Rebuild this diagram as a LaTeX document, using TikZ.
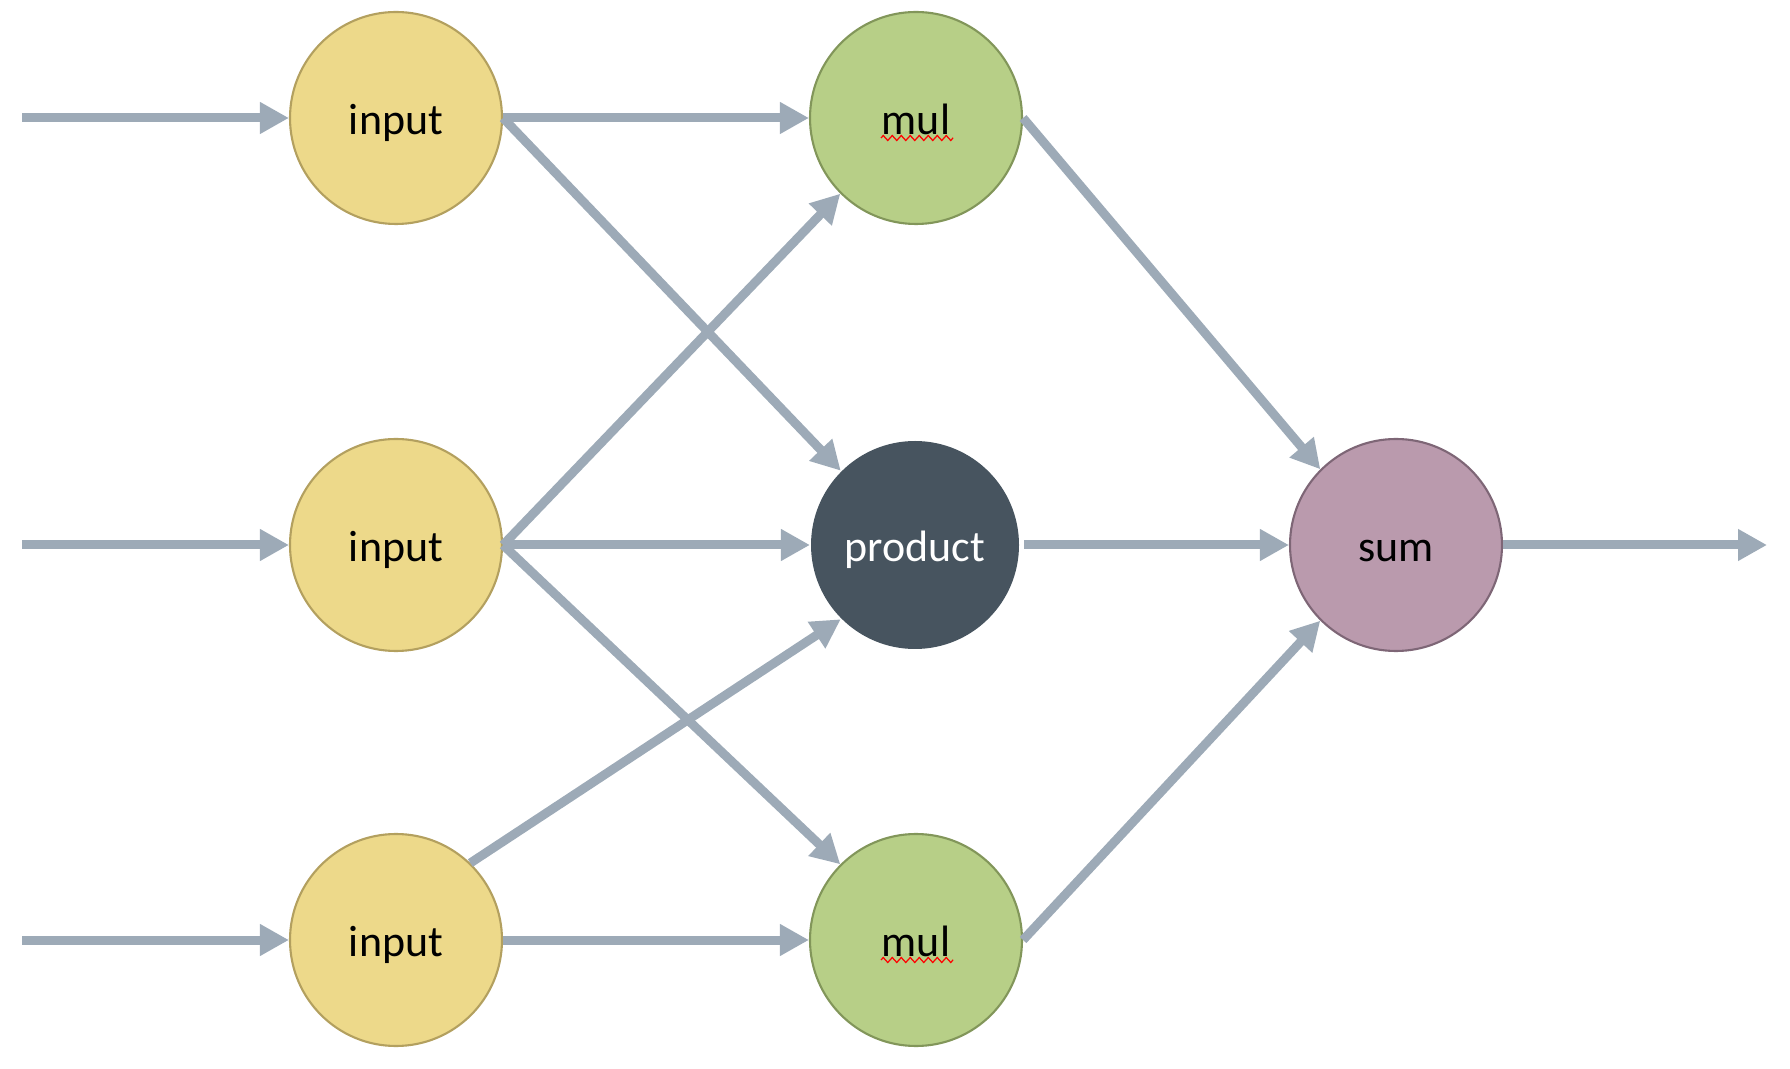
\documentclass[tikz,border=0pt]{standalone}
\usepackage{fontspec}
\setmainfont{Carlito}
\usetikzlibrary{arrows.meta,decorations.pathmorphing}

\definecolor{inyellow}{HTML}{EDD98A}
\definecolor{inborder}{HTML}{B3A05F}
\definecolor{mulgreen}{HTML}{B7CF87}
\definecolor{mulborder}{HTML}{82965A}
\definecolor{proddark}{HTML}{47545F}
\definecolor{summauve}{HTML}{BA9AAD}
\definecolor{sumborder}{HTML}{7E6676}
\definecolor{arrowgray}{HTML}{9DAAB7}

\begin{document}
\begin{tikzpicture}[
  neuron/.style={circle, minimum size=2.12cm, inner sep=0pt, line width=0.6pt,
    text height=0.36cm, text depth=0.03cm,
    font=\fontsize{12.5}{15}\selectfont},
  innode/.style={neuron, fill=inyellow, draw=inborder},
  mulnode/.style={neuron, fill=mulgreen, draw=mulborder},
  prodnode/.style={neuron, fill=proddark, minimum size=2.08cm, text=white},
  sumnode/.style={neuron, fill=summauve, draw=sumborder},
  conn/.style={draw=arrowgray, line width=0.09cm,
    -{Triangle[length=0.29cm,width=0.30cm]}}
]
\useasboundingbox (0,0) rectangle (17.9,10.68);

% Входы
\foreach \i/\y in {1/9.50, 2/5.23, 3/1.28} {
  \node[innode] (in\i) at (3.96,\y) {input};
  \coordinate (s\i) at (0.22,\y);
  \draw[conn] (s\i) -- (in\i.west);
}

% Средний слой
\node[mulnode] (mul1) at (9.16,9.50) {mul};
\node[prodnode] (prod) at (9.15,5.23) {product};
\node[mulnode] (mul2) at (9.16,1.28) {mul};

% Выход
\node[sumnode] (sum) at (13.96,5.23) {sum};
\coordinate (out) at (17.67,5.23);

% подчёркивание "mul"
\foreach \m in {mul1, mul2}
  \draw[red, line width=0.35pt, decorate,
    decoration={zigzag, segment length=0.9mm, amplitude=0.25mm}]
    ([xshift=-0.35cm,yshift=-0.2cm]\m.center) -- ([xshift=0.37cm,yshift=-0.2cm]\m.center);

% Связи
\draw[conn] (in1.east) -- (mul1.west);
\draw[conn] (in1.east) -- (prod.north west);
\draw[conn] (in2.east) -- (mul1.south west);
\draw[conn] (in2.east) -- (prod.west);
\draw[conn] (in2.east) -- (mul2.north west);
\draw[conn] (in3.46) -- (prod.south west);
\draw[conn] (in3.east) -- (mul2.west);

\draw[conn] (mul1.east) -- (sum.north west);
\draw[conn, shorten <=0.04cm] (prod.east) -- (sum.west);
\draw[conn] (mul2.east) -- (sum.south west);
\draw[conn] (sum.east) -- (out);
\end{tikzpicture}
\end{document}
